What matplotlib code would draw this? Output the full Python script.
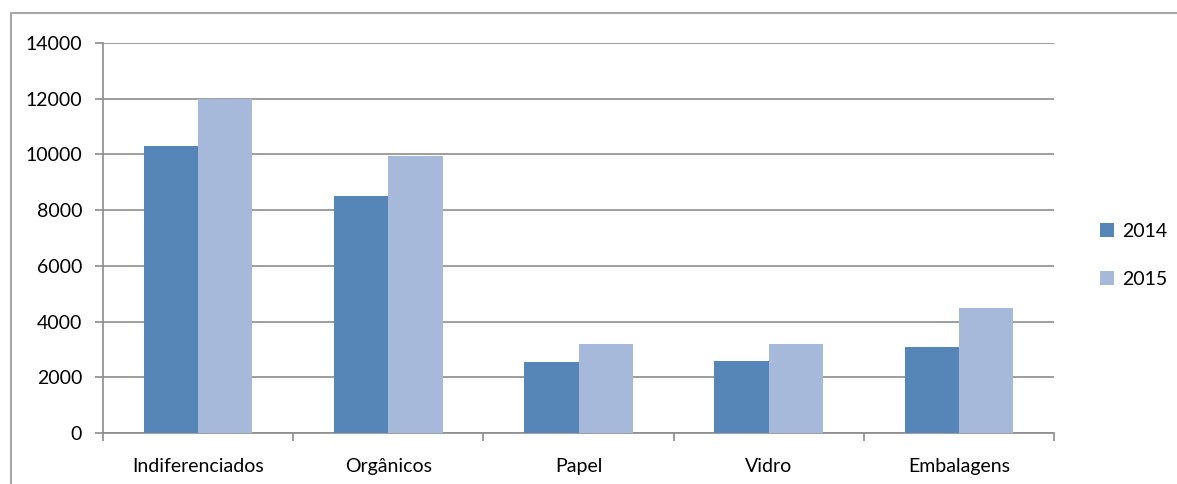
import matplotlib.pyplot as plt
import numpy as np
from matplotlib.lines import Line2D

categorias = ['Indiferenciados', 'Orgânicos', 'Papel', 'Vidro', 'Embalagens']
anos = ['2014', '2015']
valores_2014 = [10300, 8500, 2550, 2600, 3080]
valores_2015 = [12000, 9950, 3200, 3200, 4500]

plt.rcParams['font.family'] = ['Lato', 'DejaVu Sans']
plt.rcParams['font.size'] = 14

fig = plt.figure(figsize=(11.77, 4.84), dpi=100)
ax = fig.add_axes([103 / 1177, 51 / 484, 951 / 1177, 390 / 484])

# moldura cinzenta do gráfico (só topo e lado esquerdo ficam visíveis)
xb, yb = 11 / 1177, 1 - 13 / 484
fig.lines.append(Line2D([xb, xb, 1.05], [-0.05, yb, yb], transform=fig.transFigure,
                        color='#a6a6a6', linewidth=1.5))

x = np.arange(len(categorias))
w = 0.285
ax.bar(x - w / 2, valores_2014, w, color='#5686b8', label=anos[0], zorder=3)
ax.bar(x + w / 2, valores_2015, w, color='#a6b9db', label=anos[1], zorder=3)

ax.set_xlim(-0.5, len(categorias) - 0.5)
ax.set_ylim(0, 14000)
ax.set_yticks(np.arange(0, 14001, 2000))
ax.set_xticks(x)
ax.set_xticklabels(categorias)
ax.set_xticks(np.arange(-0.5, len(categorias)), minor=True)
ax.tick_params(axis='x', which='major', length=0, pad=18)
ax.tick_params(axis='x', which='minor', length=6, color='#8c8c8c', width=1.2)
ax.tick_params(axis='y', length=6, color='#8c8c8c', width=1.2, pad=9)

ax.grid(axis='y', color='#8c8c8c', linewidth=1.2, zorder=0)
for s in ['top', 'right']:
    ax.spines[s].set_visible(False)
for s in ['left', 'bottom']:
    ax.spines[s].set_color('#8c8c8c')
    ax.spines[s].set_linewidth(1.2)

ax.legend(loc='center left', bbox_to_anchor=(1.03, 0.455), frameon=False,
          handlelength=0.7, handleheight=0.7, labelspacing=1.6, handletextpad=0.45)

plt.savefig('out.png', dpi=100)
